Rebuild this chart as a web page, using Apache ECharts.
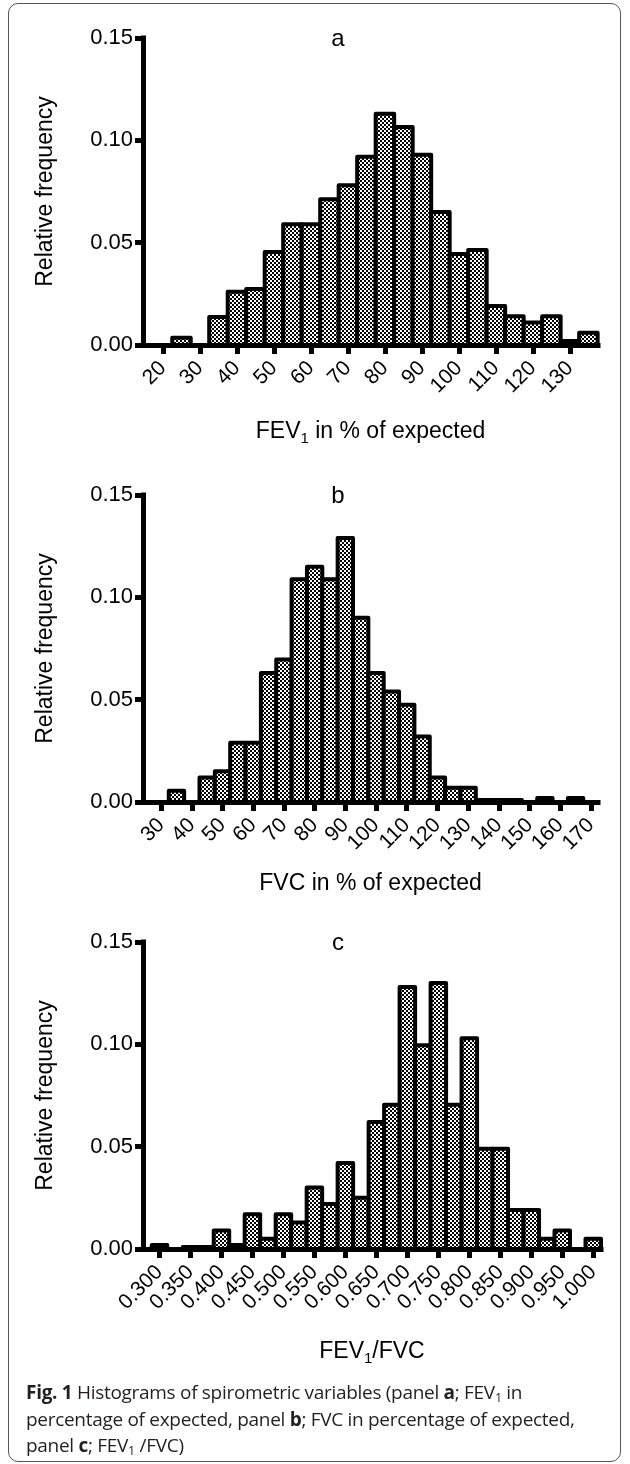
<!DOCTYPE html>
<html>
<head>
<meta charset="utf-8">
<script src="https://cdn.jsdelivr.net/npm/echarts@6/dist/echarts.min.js"></script>
<style>
html,body{margin:0;padding:0;background:#fff;}
#wrap{position:relative;width:630px;height:1464px;overflow:hidden;}
#chart{position:absolute;left:0;top:0;width:630px;height:1464px;}
#frame{position:absolute;left:8px;top:3px;width:613px;height:1459px;border:1.5px solid #555;border-radius:10px;box-sizing:border-box;pointer-events:none;}
#caption{position:absolute;left:26px;top:1379px;font-family:'Open Sans',sans-serif;font-size:19px;line-height:26.5px;color:#231f20;white-space:nowrap;letter-spacing:-0.3px;}
#caption sub{font-size:12.5px;vertical-align:-3px;line-height:0;}
</style>
</head>
<body>
<div id="wrap">
  <div id="chart"></div>
  <div id="frame"></div>
  <div id="caption"><b>Fig. 1</b> Histograms of spirometric variables (panel <b>a</b>; FEV<sub>1</sub> in<br>percentage of expected, panel <b>b</b>; FVC in percentage of expected,<br>panel <b>c</b>; FEV<sub>1</sub> /FVC)</div>
</div>
<script>
// ---- Panel a: FEV1 in % of expected ----
const binsA = [20,25,30,35,40,45,50,55,60,65,70,75,80,85,90,95,100,105,110,115,120,125,130,135];
const freqA = [0,0.0035,0,0.0137,0.026,0.0274,0.0455,0.059,0.059,0.0712,0.078,0.092,0.113,0.1065,0.093,0.065,0.0445,0.0464,0.019,0.014,0.011,0.014,0.002,0.006];
const ticksA = [20,30,40,50,60,70,80,90,100,110,120,130];

// ---- Panel b: FVC in % of expected ----
const binsB = [30,35,40,45,50,55,60,65,70,75,80,85,90,95,100,105,110,115,120,125,130,135,140,145,150,155,160,165,170];
const freqB = [0,0.0055,0,0.012,0.015,0.029,0.029,0.063,0.0696,0.1088,0.115,0.1088,0.129,0.09,0.063,0.054,0.0475,0.032,0.012,0.007,0.007,0.001,0.001,0.001,0,0.002,0,0.002,0];
const ticksB = [30,40,50,60,70,80,90,100,110,120,130,140,150,160,170];

// ---- Panel c: FEV1/FVC ----
const binsC = [0.300,0.325,0.350,0.375,0.400,0.425,0.450,0.475,0.500,0.525,0.550,0.575,0.600,0.625,0.650,0.675,0.700,0.725,0.750,0.775,0.800,0.825,0.850,0.875,0.900,0.925,0.950,0.975,1.000];
const freqC = [0.002,0,0.001,0.001,0.009,0.002,0.017,0.005,0.017,0.013,0.030,0.022,0.042,0.025,0.062,0.0705,0.128,0.0995,0.130,0.0705,0.103,0.049,0.049,0.019,0.019,0.005,0.009,0,0.005];
const ticksC = [0.30,0.35,0.40,0.45,0.50,0.55,0.60,0.65,0.70,0.75,0.80,0.85,0.90,0.95,1.00];

const yTicks = [0, 0.05, 0.10, 0.15];
const panelLetters = ['a','b','c'];

const FONT = "'Liberation Sans', Arial, sans-serif";

// checker pattern fill
const pc = document.createElement('canvas');
pc.width = 4; pc.height = 4;
const pctx = pc.getContext('2d');
pctx.fillStyle = '#fff'; pctx.fillRect(0,0,4,4);
pctx.fillStyle = '#000';
pctx.fillRect(0,0,2,2); pctx.fillRect(2,2,2,2);
const pattern = {image: pc, repeat: 'repeat'};

const panels = [
  {bins: binsA, freq: freqA, ticks: ticksA, min: 14.6, max: 137.6, top: 38, width: 455, fmt: v => String(v),
   name: '{n|FEV}{s|1}{n| in % of expected}', nameGap: 72},
  {bins: binsB, freq: freqB, ticks: ticksB, min: 24.1, max: 172.3, top: 495, width: 455, fmt: v => String(v),
   name: '{n|FVC in % of expected}', nameGap: 70},
  {bins: binsC, freq: freqC, ticks: ticksC, min: 0.2734, max: 1.0125, top: 942, width: 458, fmt: v => v.toFixed(3),
   name: '{n|FEV}{s|1}{n|/FVC}', nameGap: 88}
];

const grids = [], xAxes = [], yAxes = [], series = [], graphics = [];
const axisLineStyle = {color: '#000', width: 5, cap: 'square'};

panels.forEach((p, i) => {
  grids.push({left: 143, top: p.top, width: p.width, height: 307});
  xAxes.push({
    gridIndex: i, type: 'value', min: p.min, max: p.max,
    axisLine: {show: true, onZero: false, lineStyle: axisLineStyle},
    axisTick: {show: true, customValues: p.ticks, length: 9, lineStyle: {color: '#000', width: 5}},
    axisLabel: {customValues: p.ticks, rotate: 45, margin: 20, fontSize: 21, color: '#000', fontFamily: FONT, formatter: p.fmt},
    splitLine: {show: false},
    name: p.name, nameLocation: 'middle', nameGap: p.nameGap,
    nameTextStyle: {
      color: '#000', fontFamily: FONT, fontSize: 23,
      rich: {
        n: {fontSize: 23, fontFamily: FONT, color: '#000'},
        s: {fontSize: 15, fontFamily: FONT, color: '#000', padding: [14, 0, 0, 0]}
      }
    }
  });
  yAxes.push({
    gridIndex: i, type: 'value', min: 0, max: 0.15, interval: 0.05,
    axisLine: {show: true, lineStyle: axisLineStyle},
    axisTick: {show: true, length: 8, lineStyle: {color: '#000', width: 5}},
    axisLabel: {margin: 10, fontSize: 22, color: '#000', fontFamily: FONT, formatter: v => v.toFixed(2)},
    splitLine: {show: false},
    name: 'Relative frequency', nameLocation: 'middle', nameGap: 86, nameRotate: 90,
    nameTextStyle: {color: '#000', fontFamily: FONT, fontSize: 23}
  });
  const half = (p.bins[1] - p.bins[0]) / 2;
  series.push({
    type: 'custom', xAxisIndex: i, yAxisIndex: i, z: 3,
    data: p.bins.map((b, k) => [b, p.freq[k]]),
    renderItem: function (params, api) {
      const x = api.value(0), y = api.value(1);
      if (!y) return null;
      const p0 = api.coord([x - half, y]);
      const p1 = api.coord([x + half, 0]);
      return {
        type: 'rect',
        shape: {x: p0[0], y: p0[1], width: p1[0] - p0[0], height: p1[1] - p0[1]},
        style: {fill: pattern, stroke: '#000', lineWidth: 4, lineJoin: 'round'}
      };
    }
  });
  graphics.push({
    type: 'text', x: 338, y: p.top + 1,
    style: {text: panelLetters[i], fontSize: 24, fontFamily: FONT, fill: '#000', align: 'center', verticalAlign: 'middle'}
  });
});

const chart = echarts.init(document.getElementById('chart'), null, {renderer: 'canvas'});
chart.setOption({
  animation: false,
  backgroundColor: '#fff',
  grid: grids,
  xAxis: xAxes,
  yAxis: yAxes,
  series: series,
  graphic: graphics
});
</script>
</body>
</html>
